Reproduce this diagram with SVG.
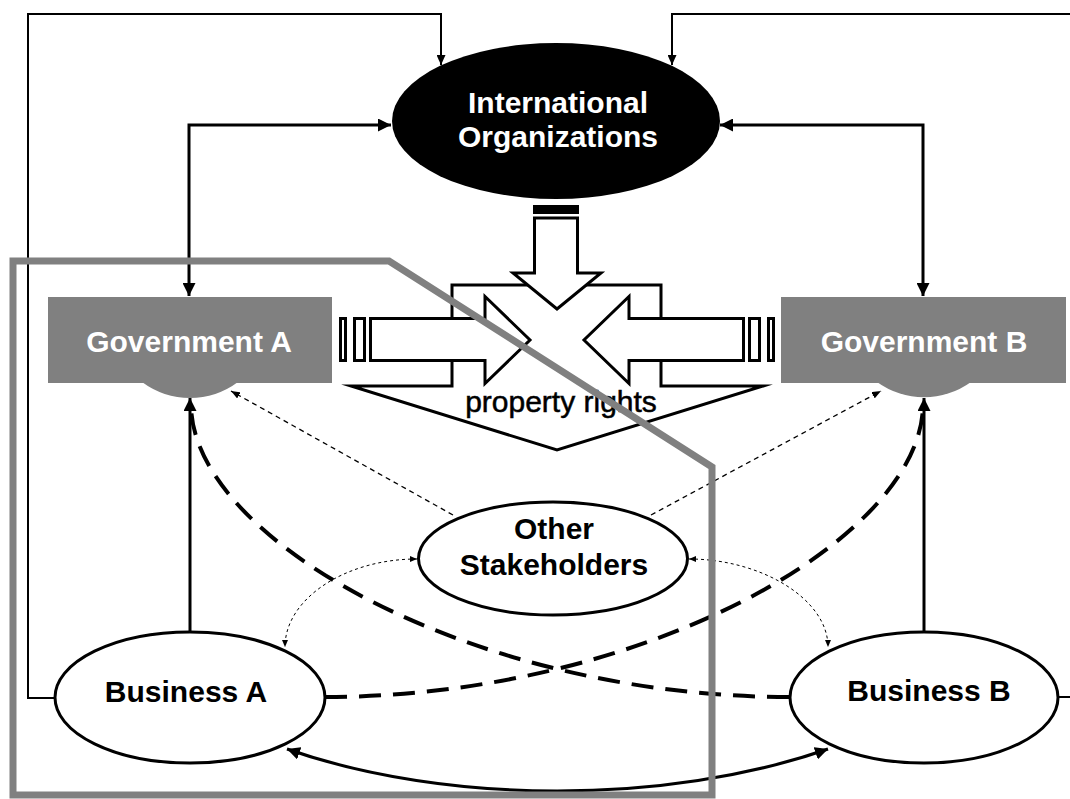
<svg xmlns="http://www.w3.org/2000/svg" width="1070" height="799" viewBox="0 0 1070 799">
  <style>
    .lbl{font-family:"Liberation Sans",Arial,sans-serif;font-size:30px;font-weight:bold;text-anchor:middle}
    .plain{font-family:"Liberation Sans",Arial,sans-serif;font-size:30px;text-anchor:middle;fill:#000;stroke:#000;stroke-width:0.5}
    .w{fill:#fff}
    .k{fill:#000}
    .gov{fill:#808080}
    .oval{fill:#fff;stroke:#000;stroke-width:3}
    .blk{fill:#fff;stroke:#000;stroke-width:3;stroke-linejoin:miter;stroke-miterlimit:12}
    .thin{fill:none;stroke:#000;stroke-width:2}
    .thick{fill:none;stroke:#000;stroke-width:3}
    .dash{fill:none;stroke:#000;stroke-width:4;stroke-dasharray:22 12}
    .fine{fill:none;stroke:#000;stroke-width:1.3;stroke-dasharray:5 4}
    .dot{fill:none;stroke:#000;stroke-width:1;stroke-dasharray:3 3}
    .zone{fill:none;stroke:#808080;stroke-width:7;stroke-linejoin:miter}
  </style>
  <defs>
    <marker id="aBig" markerUnits="userSpaceOnUse" viewBox="0 0 13 13" markerWidth="13" markerHeight="13" refX="13" refY="6.5" orient="auto-start-reverse">
      <path d="M0,0 L13,6.5 L0,13 Z" fill="#000"/>
    </marker>
    <marker id="aThin" markerUnits="userSpaceOnUse" viewBox="0 0 10 9" markerWidth="10" markerHeight="9" refX="10" refY="4.5" orient="auto-start-reverse">
      <path d="M0,0 L10,4.5 L0,9 Z" fill="#000"/>
    </marker>
    <marker id="aFine" markerUnits="userSpaceOnUse" viewBox="0 0 9 7" markerWidth="9" markerHeight="7" refX="9" refY="3.5" orient="auto-start-reverse">
      <path d="M0,0 L9,3.5 L0,7 Z" fill="#000"/>
    </marker>
    <marker id="aDot" markerUnits="userSpaceOnUse" viewBox="0 0 7 6" markerWidth="7" markerHeight="6" refX="7" refY="3" orient="auto-start-reverse">
      <path d="M0,0 L7,3 L0,6 Z" fill="#000"/>
    </marker>
  </defs>

  <!-- connectors -->
  <g id="connectors">
    <!-- outer feedback lines into the international organizations -->
    <path class="thin" d="M55,698 H28 V14 H441 V65" marker-end="url(#aThin)"/>
    <path class="thin" d="M1058,697 H1080 V14 H672 V65" marker-end="url(#aThin)"/>
    <!-- governments <-> international organizations -->
    <path class="thick" d="M189,296 V125 H391" marker-start="url(#aBig)" marker-end="url(#aBig)"/>
    <path class="thick" d="M923,296 V125 H720" marker-start="url(#aBig)" marker-end="url(#aBig)"/>
    <!-- business -> own government -->
    <path class="thick" d="M190,632 V398" marker-end="url(#aBig)"/>
    <path class="thick" d="M924,632 V398" marker-end="url(#aBig)"/>
    <!-- business -> foreign government (crossing) -->
    <path class="dash" d="M325,697 C640,697 923,540 923,404"/>
    <path class="dash" d="M789,697 C474,697 191,540 191,404"/>
    <!-- other stakeholders -> governments -->
    <path class="fine" d="M453,515 L231,391" marker-end="url(#aFine)"/>
    <path class="fine" d="M651,515 L881,391" marker-end="url(#aFine)"/>
    <!-- other stakeholders <-> businesses -->
    <path class="dot" d="M417,559 C345,559 285,599 285,647" marker-start="url(#aDot)" marker-end="url(#aDot)"/>
    <path class="dot" d="M689,559 C761,559 828,599 828,647" marker-start="url(#aDot)" marker-end="url(#aDot)"/>
    <!-- business A <-> business B -->
    <path class="thick" d="M287,749 C447,805 667,805 828,749" marker-start="url(#aBig)" marker-end="url(#aBig)"/>
  </g>

  <!-- property rights block -->
  <g id="property-rights">
    <path class="blk" d="M452,285 H661 V386 H763 L557,450 L351,386 H452 Z"/>
    <rect x="533" y="205" width="46" height="9" fill="#000"/>
    <path class="blk" d="M534.5,218 H577.5 V273 H601 L557,309 L513,273 H534.5 Z"/>
    <rect class="blk" x="340.5" y="318.5" width="5" height="42"/>
    <rect class="blk" x="354.5" y="318.5" width="10" height="42"/>
    <path class="blk" d="M370.5,318.5 H485 V296.5 L530,340 L485,383.5 V360.5 H370.5 Z"/>
    <rect class="blk" x="768.5" y="318.5" width="5" height="42"/>
    <rect class="blk" x="749.5" y="318.5" width="10" height="42"/>
    <path class="blk" d="M743.5,318.5 H629 V296.5 L584,340 L629,383.5 V360.5 H743.5 Z"/>
    <text class="plain" x="561" y="412">property rights</text>
  </g>

  <g id="node-intl">
    <ellipse cx="556" cy="121" rx="164" ry="78" class="k"/>
    <text class="lbl w" x="558" y="113">International</text>
    <text class="lbl w" x="558" y="147">Organizations</text>
  </g>

  <g id="node-govA">
    <rect x="48" y="297" width="284" height="86" class="gov"/>
    <path d="M142,382 A80,80 0 0 0 238,382 Z" class="gov"/>
    <text class="lbl w" x="189" y="352">Government A</text>
  </g>

  <g id="node-govB">
    <rect x="781" y="297" width="285" height="86" class="gov"/>
    <path d="M877,382 A80,80 0 0 0 971,382 Z" class="gov"/>
    <text class="lbl w" x="924" y="352">Government B</text>
  </g>

  <g id="node-other">
    <ellipse cx="553" cy="558.5" rx="134.5" ry="56.5" class="oval"/>
    <text class="lbl k" x="554" y="539">Other</text>
    <text class="lbl k" x="554" y="575">Stakeholders</text>
  </g>

  <g id="node-busA">
    <ellipse cx="190" cy="697.5" rx="135" ry="65.5" class="oval"/>
    <text class="lbl k" x="186" y="702">Business A</text>
  </g>

  <g id="node-busB">
    <ellipse cx="924" cy="697.5" rx="134" ry="65.5" class="oval"/>
    <text class="lbl k" x="929" y="701">Business B</text>
  </g>

  <!-- boundary of country A -->
  <g id="boundary">
    <path class="zone" d="M13,261 H389 L712,467 V795 H13 Z"/>
  </g>
</svg>
